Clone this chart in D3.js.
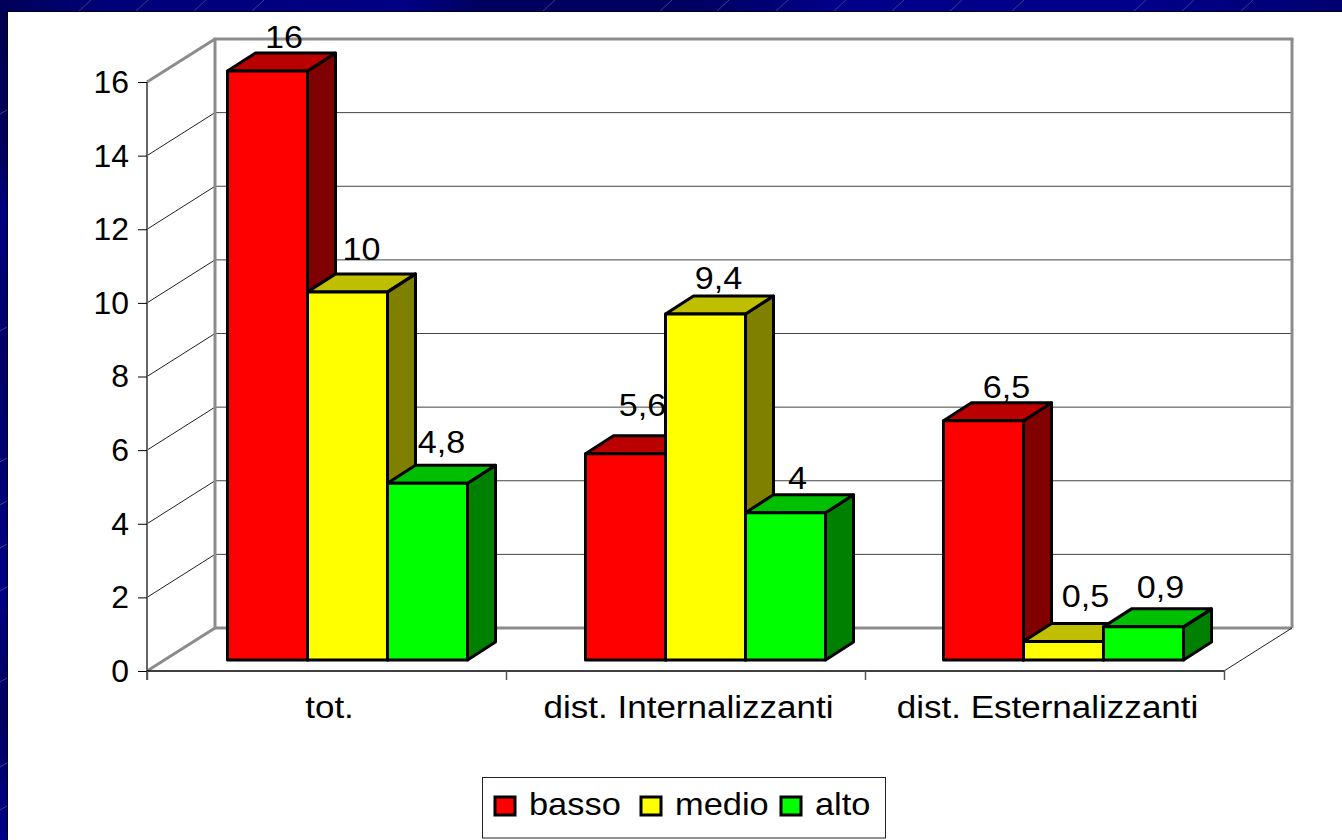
<!DOCTYPE html>
<html>
<head>
<meta charset="utf-8">
<title>basso medio alto</title>
<script src="https://cdnjs.cloudflare.com/ajax/libs/d3/7.8.5/d3.min.js"></script>
<style>
    html, body { margin: 0; padding: 0; background: #000080; overflow: hidden; }
    svg { display: block; }
    text { font-family: "Liberation Sans", Arial, sans-serif; fill: #000; }
</style>
</head>
<body>
<script>
var categories = ['tot.', 'dist. Internalizzanti', 'dist. Esternalizzanti'];
var seriesNames = ['basso', 'medio', 'alto'];
var bassoValues = [16, 5.6, 6.5];
var medioValues = [10, 9.4, 0.5];
var altoValues = [4.8, 4, 0.9];
var yTicks = [0, 2, 4, 6, 8, 10, 12, 14, 16];
var valueLabels = ['16', '10', '4,8', '5,6', '9,4', '4', '6,5', '0,5', '0,9'];

var faceColors = ['#ff0000', '#ffff00', '#00ff00'];
var topColors = ['#bb0000', '#bfbf00', '#00bf00'];
var sideColors = ['#800000', '#808000', '#008000'];

// small streaks on the slide background
var streaksTop = [78, 135, 193, 251, 542, 659, 716, 775, 833, 891, 949, 1011, 1133, 1181, 1240];
var streaksLeft = [110, 327, 458, 501, 544, 587, 678, 763, 806];

// label shifts from the default spot above each bar, [x, y] per label
var labelNudge = [[2.5, -1], [0, -10], [0, -8], [3, -16], [-1, -3], [-2, -2], [9, -1], [8, -13], [3, -7]];

var width = 1342, height = 840;
var left = 147, right = 1224, floorY = 671, topY = 82;
var wallDx = 68, wallDy = -43;       // depth of the chart box
var barDx = 28, barDy = -18;         // depth of one bar
var barLift = 11;                    // bars stand a bit behind the front edge
var groupStart = 227.5, groupStep = 358, groupWidth = 240;
var fontSize = 31;

var svg = d3.select('body').append('svg')
    .attr('width', width)
    .attr('height', height);

// the text runs wider than the plain font, widen it around each element's own anchor
function stretch(sel, factor) {
    sel.attr('transform', function() {
        var x = +this.getAttribute('x') || 0;
        return 'translate(' + x + ',0) scale(' + factor + ',1) translate(' + (-x) + ',0)';
    });
}

function drawBackground() {
    var defs = svg.append('defs');
    var topStops = [[0, '#00005a'], [0.08, '#000078'], [0.3, '#000084'], [0.36, '#00005e'],
        [0.52, '#000062'], [0.62, '#000088'], [0.85, '#00008a'], [1, '#000070']];
    var leftStops = [[0, '#00004e'], [0.18, '#000060'], [0.24, '#000082'], [0.42, '#000066'],
        [0.7, '#000086'], [0.84, '#00005e'], [1, '#00008a']];
    var gradients = [['bgTop', topStops, '100%', '0%'], ['bgLeft', leftStops, '0%', '100%']];
    gradients.forEach(function(g) {
        defs.append('linearGradient')
            .attr('id', g[0])
            .attr('x2', g[2])
            .attr('y2', g[3])
            .selectAll('stop')
            .data(g[1])
            .join('stop')
            .attr('offset', function(d) { return d[0]; })
            .attr('stop-color', function(d) { return d[1]; });
    });
    svg.append('rect').attr('width', width).attr('height', height).attr('fill', '#000080');
    svg.append('rect').attr('width', width).attr('height', 12).attr('fill', 'url(#bgTop)');
    svg.append('rect').attr('y', 12).attr('width', 8).attr('height', height - 12).attr('fill', 'url(#bgLeft)');
    svg.selectAll('.streak-top')
        .data(streaksTop)
        .join('line')
        .attr('x1', function(d) { return d; })
        .attr('y1', 12)
        .attr('x2', function(d) { return d + 13; })
        .attr('y2', 0)
        .attr('stroke', '#4c4c94')
        .attr('stroke-width', 0.8);
    svg.selectAll('.streak-left')
        .data(streaksLeft)
        .join('line')
        .attr('x1', 0)
        .attr('y1', function(d) { return d + 4; })
        .attr('x2', 7)
        .attr('y2', function(d) { return d; })
        .attr('stroke', '#4c4c94')
        .attr('stroke-width', 0.8);
    // white panel with its thin dark edge
    svg.append('rect').attr('x', 7).attr('y', 11).attr('width', width).attr('height', height).attr('fill', '#000020');
    svg.append('rect').attr('x', 8).attr('y', 12).attr('width', width).attr('height', height).attr('fill', '#fff');
}

drawBackground();

var y = d3.scaleLinear().domain([0, 16]).range([floorY, topY]);
var xAxisScale = d3.scaleBand().domain(categories).range([left, right]);
var xEdges = d3.scaleLinear().domain([0, categories.length]).range([left, right]);
var xGroup = d3.scaleBand().domain(categories).range([groupStart, groupStart + groupStep * categories.length]);
var xBar = d3.scaleBand().domain(seriesNames).range([0, groupWidth]);

function wall(sel, x1, y1, x2, y2, color, w) {
    return sel.append('line')
        .attr('x1', x1).attr('y1', y1)
        .attr('x2', x2).attr('y2', y2)
        .attr('stroke', color)
        .attr('stroke-width', w);
}

var box = svg.append('g');

// gridlines on the side wall and the back wall
var inner = yTicks.filter(function(d) { return d > 0 && d < 16; });
inner.forEach(function(t) {
    wall(box, left, y(t), left + wallDx, y(t) + wallDy, '#222', 1);
    wall(box, left + wallDx, y(t) + wallDy, right + wallDx, y(t) + wallDy, '#444', 1);
});

var grey = '#8c8c8c';
var backTop = y(16) + wallDy, backBottom = y(0) + wallDy;
wall(box, left, y(16), left + wallDx, backTop, grey, 3);
wall(box, left + wallDx - 1.5, backTop, right + wallDx + 1.5, backTop, grey, 3);
wall(box, left + wallDx, backTop, left + wallDx, backBottom, grey, 3);
wall(box, right + wallDx, backTop, right + wallDx, backBottom, grey, 3);
wall(box, left + wallDx, backBottom, right + wallDx, backBottom, grey, 3);
wall(box, left, y(0), left + wallDx, backBottom, grey, 3);
wall(box, right, y(0), right + wallDx, backBottom, '#222', 1);

// axes
var yAxis = d3.axisLeft(y).tickValues(yTicks).tickSize(9).tickPadding(9).tickFormat(d3.format('d'));
var yAxisG = svg.append('g')
    .attr('transform', 'translate(' + left + ',0)')
    .call(yAxis);
yAxisG.select('.domain').attr('stroke', '#666').attr('stroke-width', 2).attr('d', 'M0,' + y(16) + 'V' + (y(0) + 9));
yAxisG.selectAll('.tick line').attr('stroke', '#000');
yAxisG.selectAll('text')
    .attr('font-size', fontSize)
    .attr('font-family', null)
    .attr('y', 0.5)
    .call(stretch, 1.03);

var edgeAxis = d3.axisBottom(xEdges).tickValues(d3.range(categories.length + 1)).tickSize(9).tickFormat('');
var edgeG = svg.append('g')
    .attr('transform', 'translate(0,' + floorY + ')')
    .call(edgeAxis);
edgeG.select('.domain').attr('stroke', '#000').attr('stroke-width', 1.5).attr('d', 'M' + left + ',0H' + right);
edgeG.selectAll('.tick line').attr('stroke', '#555').attr('stroke-width', 1.5);

var labelAxis = d3.axisBottom(xAxisScale).tickSize(0).tickPadding(25);
var labelG = svg.append('g')
    .attr('transform', 'translate(3,' + floorY + ')')
    .call(labelAxis);
labelG.select('.domain').remove();
labelG.selectAll('text')
    .attr('font-size', fontSize)
    .attr('font-family', null)
    .call(stretch, 1.13);

// bars: one group per category, red, yellow, green from the left
var seriesValues = [bassoValues, medioValues, altoValues];
var barData = [];
categories.forEach(function(cat, c) {
    seriesNames.forEach(function(name, s) {
        barData.push({ cat: cat, name: name, s: s, value: seriesValues[s][c], index: barData.length });
    });
});

function poly(pts) {
    return pts.map(function(p) { return p.join(','); }).join(' ');
}

var bars = svg.append('g').selectAll('g')
    .data(barData)
    .join('g')
    .attr('stroke', '#000')
    .attr('stroke-width', 3)
    .attr('stroke-linejoin', 'round');

bars.each(function(d) {
    var g = d3.select(this);
    var x0 = xGroup(d.cat) + xBar(d.name);
    var x1 = x0 + xBar.bandwidth();
    var yTop = y(d.value) - barLift;
    var yBase = y(0) - barLift;
    g.append('polygon')
        .attr('points', poly([[x1, yTop], [x1 + barDx, yTop + barDy], [x1 + barDx, yBase + barDy], [x1, yBase]]))
        .attr('fill', sideColors[d.s]);
    g.append('polygon')
        .attr('points', poly([[x0, yTop], [x0 + barDx, yTop + barDy], [x1 + barDx, yTop + barDy], [x1, yTop]]))
        .attr('fill', topColors[d.s]);
    g.append('rect')
        .attr('x', x0)
        .attr('y', yTop)
        .attr('width', x1 - x0)
        .attr('height', yBase - yTop)
        .attr('fill', faceColors[d.s]);
});

// value labels
svg.append('g').selectAll('text')
    .data(barData)
    .join('text')
    .attr('font-size', fontSize)
    .attr('text-anchor', 'middle')
    .attr('x', function(d) {
        return xGroup(d.cat) + xBar(d.name) + xBar.bandwidth() / 2 + barDx / 2 + labelNudge[d.index][0];
    })
    .attr('y', function(d) {
        return y(d.value) - barLift + barDy - 4 + labelNudge[d.index][1];
    })
    .text(function(d) { return valueLabels[d.index]; })
    .call(stretch, 1.1);

// legend
var legend = svg.append('g');
legend.append('rect')
    .attr('x', 482.5).attr('y', 777.5)
    .attr('width', 403).attr('height', 60.5)
    .attr('fill', '#fff')
    .attr('stroke', '#222')
    .attr('stroke-width', 1);
var legendX = d3.scaleOrdinal().domain(seriesNames).range([495, 641, 781]);
var items = legend.selectAll('.item')
    .data(seriesNames)
    .join('g')
    .attr('transform', function(d) { return 'translate(' + legendX(d) + ',0)'; });
items.append('rect')
    .attr('y', 797)
    .attr('width', 20)
    .attr('height', 18)
    .attr('fill', function(d, i) { return faceColors[i]; })
    .attr('stroke', '#000')
    .attr('stroke-width', 3);
items.append('text')
    .attr('x', 34)
    .attr('y', 815)
    .attr('font-size', fontSize)
    .text(function(d) { return d; })
    .call(stretch, 1.11);
</script>
</body>
</html>
